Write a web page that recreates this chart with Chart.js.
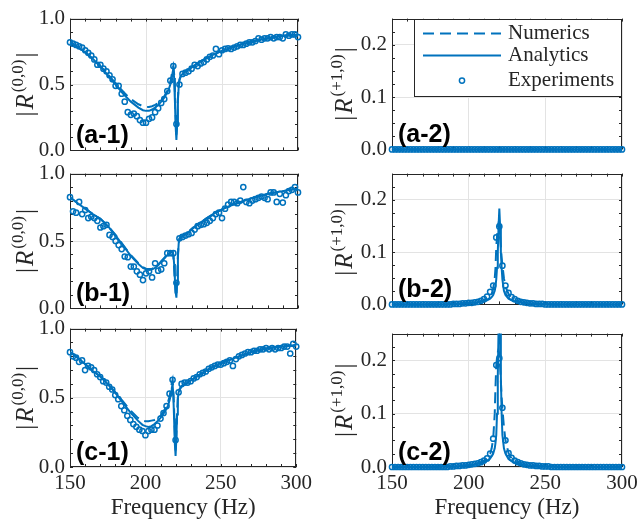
<!DOCTYPE html>
<html>
<head>
<meta charset="utf-8">
<title>Reflection coefficients vs frequency</title>
<script src="https://cdn.jsdelivr.net/npm/chart.js"></script>
<style>
    html, body { margin: 0; padding: 0; background: #fff; overflow: hidden; }
    body { width: 637px; height: 525px; position: relative; }
    .panel { position: absolute; }
</style>
</head>
<body>
<div class="panel" id="pa1"><canvas id="ca1"></canvas></div>
<div class="panel" id="pb1"><canvas id="cb1"></canvas></div>
<div class="panel" id="pc1"><canvas id="cc1"></canvas></div>
<div class="panel" id="pa2"><canvas id="ca2"></canvas></div>
<div class="panel" id="pb2"><canvas id="cb2"></canvas></div>
<div class="panel" id="pc2"><canvas id="cc2"></canvas></div>

<script>
// frequencies (Hz) of the model curves and of the measurements
const freqModel = [150,155,160,165,170,175,180,185,190,195,
    198,200,202,204,206,208,210,212,214,
    215,216,217,217.5,218,218.5,219,219.5,220,220.5,221,221.5,222,
    223,224,226,228,230,
    235,240,245,250,255,260,265,270,275,280,285,290,295,300];
const freqExp = [150,152,154,156,158,160,162,164,166,168,170,172,174,176,178,180,182,184,186,188,
    190,192,194,196,198,200,202,204,206,208,210,212,214,216,218,220,222,224,226,228,
    230,232,234,236,238,240,242,244,246,248,250,252,254,256,258,260,262,264,266,268,
    270,272,274,276,278,280,282,284,286,288,290,292,294,296,298,300];

// |R(0,0)| panels
const a1Numerics = [.82,.785,.745,.695,.64,.575,.51,.445,.39,.35,
    .335,.33,.33,.335,.345,.36,.38,.41,.45,
    .48,.52,.58,.62,.64,.58,.45,.26,.12,.22,.40,.50,.54,
    .57,.585,.60,.615,.63,
    .67,.70,.73,.755,.775,.795,.81,.825,.84,.85,.86,.87,.875,.88];
const a1Analytics = [.82,.785,.745,.695,.635,.57,.50,.43,.37,.325,
    .305,.30,.30,.31,.325,.345,.37,.40,.44,
    .465,.50,.55,.59,.62,.55,.38,.18,.08,.20,.38,.48,.53,
    .565,.58,.60,.615,.63,
    .67,.70,.73,.755,.775,.795,.81,.825,.84,.85,.86,.87,.875,.88];
const a1Exp = [.82,.81,.80,.79,.78,.76,.74,.72,.69,.65,
    .65,.62,.60,.57,.54,.49,.49,.43,.37,.29,
    .27,.28,.26,.23,.21,.21,.24,.25,.29,.32,
    .36,.39,.45,.53,.64,.20,.50,.58,.59,.60,
    .62,.65,.64,.66,.67,.69,.71,.72,.77,.73,
    .76,.77,.775,.77,.78,.79,.80,.80,.81,.82,
    .82,.83,.85,.84,.85,.85,.86,.85,.86,.86,
    .85,.88,.87,.88,.88,.86];

const b1Numerics = [.825,.78,.74,.70,.665,.61,.545,.47,.395,.335,
    .305,.295,.29,.295,.305,.325,.35,.375,.40,
    .41,.42,.425,.42,.39,.30,.19,.11,.09,.22,.40,.49,.52,
    .53,.54,.555,.57,.59,
    .63,.67,.705,.735,.76,.78,.80,.82,.835,.85,.86,.87,.88,.89];
const b1Analytics = [.825,.78,.74,.70,.665,.61,.54,.465,.39,.33,
    .30,.29,.285,.29,.30,.32,.345,.37,.395,
    .405,.415,.42,.42,.40,.33,.22,.12,.08,.20,.38,.48,.515,
    .525,.535,.55,.565,.585,
    .63,.67,.705,.735,.76,.78,.80,.82,.835,.85,.86,.87,.88,.89];
const b1Exp = [.825,.72,.71,.79,.70,.73,.67,.68,.67,.65,
    .60,.61,.62,.545,.53,.50,.47,.44,.385,.38,
    .31,.31,.275,.25,.21,.26,.275,.23,.335,.28,
    .29,.335,.41,.41,.41,.19,.52,.53,.54,.55,
    .56,.585,.61,.62,.625,.635,.65,.67,.70,.71,
    .67,.74,.77,.79,.79,.78,.80,.90,.79,.78,
    .80,.81,.82,.83,.82,.81,.86,.86,.79,.85,
    .785,.84,.87,.88,.90,.86];

const c1Numerics = [.83,.79,.745,.695,.655,.60,.54,.475,.41,.355,
    .335,.33,.33,.335,.34,.35,.37,.40,.44,
    .47,.51,.57,.61,.63,.56,.42,.24,.12,.22,.40,.50,.55,
    .57,.585,.60,.61,.625,
    .66,.695,.725,.75,.77,.79,.81,.83,.845,.855,.865,.87,.875,.88];
const c1Analytics = [.83,.79,.745,.695,.655,.60,.535,.465,.395,.335,
    .305,.295,.29,.295,.31,.33,.355,.385,.42,
    .445,.48,.53,.57,.60,.52,.35,.17,.08,.20,.38,.49,.54,
    .565,.58,.595,.61,.625,
    .66,.695,.725,.75,.77,.79,.81,.83,.845,.855,.865,.87,.875,.88];
const c1Exp = [.83,.80,.79,.76,.77,.70,.73,.72,.70,.67,
    .65,.62,.61,.58,.56,.52,.49,.44,.41,.37,
    .34,.31,.29,.27,.26,.23,.26,.27,.27,.30,
    .35,.39,.44,.53,.63,.195,.54,.60,.61,.61,
    .62,.64,.65,.67,.68,.69,.71,.72,.73,.74,
    .74,.75,.76,.77,.73,.78,.80,.81,.82,.83,
    .83,.84,.84,.85,.85,.86,.85,.86,.85,.86,
    .86,.87,.87,.82,.89,.87];

// |R(+1,0)| panels
const a2Numerics = [0,0,0,0,0,0,0,0,0,0,
    0,0,0,0,0,0,0,0,0,
    0,0,0,0,0,0,0,0,0,0,0,0,0,
    0,0,0,0,0,
    0,0,0,0,0,0,0,0,0,0,0,0,0,0];
const a2Analytics = [0,0,0,0,0,0,0,0,0,0,
    0,0,0,0,0,0,0,0,0,
    0,0,0,0,0,0,0,0,0,0,0,0,0,
    0,0,0,0,0,
    0,0,0,0,0,0,0,0,0,0,0,0,0,0];
const a2Exp = [0,0,0,0,0,0,0,0,0,0,0,0,0,0,0,0,0,0,0,0,
    0,0,0,0,0,0,0,0,0,0,0,0,0,0,0,0,0,0,0,0,
    0,0,0,0,0,0,0,0,0,0,0,0,0,0,0,0,0,0,0,0,
    0,0,0,0,0,0,0,0,0,0,0,0,0,0,0,0];

const b2Numerics = [0,0,0,0,0,0,0,0,.001,.002,
    .002,.003,.003,.004,.005,.006,.008,.010,.015,
    .020,.030,.050,.070,.110,.130,.145,.155,.150,.130,.110,.090,.075,
    .050,.034,.020,.012,.008,
    .004,.002,.001,.001,0,0,0,0,0,0,0,0,0,0];
const b2Analytics = [0,0,0,0,0,0,0,0,.001,.001,
    .002,.002,.003,.003,.004,.005,.006,.008,.011,
    .014,.018,.026,.034,.048,.070,.100,.150,.183,.150,.100,.070,.048,
    .026,.018,.011,.008,.006,
    .003,.002,.001,.001,0,0,0,0,0,0,0,0,0,0];
const b2Exp = [0,0,0,0,0,0,0,0,0,0,0,0,0,0,0,0,0,0,0,0,
    .001,.001,.001,.002,.002,.003,.003,.004,.005,.007,
    .010,.015,.024,.036,.128,.149,.074,.036,.022,.014,
    .010,.007,.005,.004,.003,.002,.002,.001,.001,.001,
    0,0,0,0,0,0,0,0,0,0,0,0,0,0,0,0,0,0,0,0,0,0,0,0,0,0];

const c2Numerics = [0,0,0,0,0,0,0,.001,.001,.002,
    .003,.004,.005,.006,.007,.009,.012,.016,.025,
    .035,.053,.100,.150,.190,.205,.215,.220,.210,.190,.160,.130,.110,
    .075,.050,.026,.016,.011,
    .005,.003,.002,.001,.001,0,0,0,0,0,0,0,0,0];
const c2Analytics = [0,0,0,0,0,0,0,.001,.001,.002,
    .003,.003,.004,.005,.006,.007,.009,.012,.016,
    .020,.025,.035,.045,.060,.100,.170,.260,.320,.260,.170,.100,.060,
    .035,.025,.015,.011,.008,
    .004,.003,.002,.001,.001,0,0,0,0,0,0,0,0,0];
const c2Exp = [0,0,0,0,0,0,0,0,0,0,0,0,0,0,0,0,0,0,0,
    .001,.001,.002,.002,.003,.003,.004,.005,.006,.007,.009,
    .012,.016,.025,.053,.191,.204,.111,.050,.026,.017,
    .012,.009,.007,.005,.004,.003,.003,.002,.002,.001,.001,.001,
    0,0,0,0,0,0,0,0,0,0,0,0,0,0,0,0,0,0,0,0,0,0,0,0];

const BLUE = '#0072bd';
const INK = '#262626';
const GRID = '#e3e3e3';

Chart.defaults.font.family = '"Liberation Serif", "Times New Roman", serif';
Chart.defaults.color = INK;

// box, inward ticks, panel tag, y label and legend, MATLAB style
const deco = {
    id: 'deco',
    beforeDatasetsDraw(chart, args, o) {
        const {ctx, chartArea: a, scales: {x, y}} = chart;
        ctx.save();
        ctx.strokeStyle = INK;
        ctx.lineWidth = 1;
        ctx.beginPath();
        for (let v = x.min; v <= x.max + 1e-6; v += 10) {
            const px = Math.round(x.getPixelForValue(v)) + 0.5;
            ctx.moveTo(px, a.top); ctx.lineTo(px, a.top + 3);
            ctx.moveTo(px, a.bottom); ctx.lineTo(px, a.bottom - 3);
        }
        for (let v = y.min; v <= y.max + 1e-6; v += o.yMinor) {
            const py = Math.round(y.getPixelForValue(v)) + 0.5;
            ctx.moveTo(a.left, py); ctx.lineTo(a.left + 3, py);
            ctx.moveTo(a.right, py); ctx.lineTo(a.right - 3, py);
        }
        ctx.stroke();
        ctx.strokeRect(Math.round(a.left) + 0.5, Math.round(a.top) + 0.5,
            Math.round(a.width) - 1, Math.round(a.height) - 1);
        ctx.restore();
    },
    afterDraw(chart, args, o) {
        const {ctx, chartArea: a} = chart;
        ctx.save();

        // panel tag
        ctx.font = 'bold 25px "Liberation Sans", Arial, sans-serif';
        ctx.fillStyle = '#000';
        ctx.textBaseline = 'alphabetic';
        ctx.textAlign = 'left';
        ctx.fillText(o.tag, a.left + 6, a.bottom - 7);

        // y label |R^(m,n)|
        ctx.save();
        ctx.translate(o.ylabX, (a.top + a.bottom) / 2);
        ctx.rotate(-Math.PI / 2);
        ctx.fillStyle = INK;
        const fMain = '25px "Liberation Serif"';
        const fIt = 'italic 25px "Liberation Serif"';
        const fSup = '17px "Liberation Serif"';
        ctx.font = fMain; const wb = ctx.measureText('|').width;
        ctx.font = fIt; const wr = ctx.measureText('R').width;
        ctx.font = fSup; const ws = ctx.measureText(o.sup).width;
        const gap = 2;
        let u = -(2 * wb + wr + ws + 3 * gap) / 2;
        ctx.font = fMain; ctx.fillText('|', u, 0); u += wb + gap;
        ctx.font = fIt; ctx.fillText('R', u, 0); u += wr + gap;
        ctx.font = fSup; ctx.fillText(o.sup, u, -10); u += ws + gap;
        ctx.font = fMain; ctx.fillText('|', u, 0);
        ctx.restore();

        if (o.legend) {
            const bw = 208, bh = 78;
            const bx = a.right - bw, by = a.top;
            ctx.fillStyle = '#fff';
            ctx.fillRect(bx, by, bw, bh);
            ctx.strokeStyle = INK;
            ctx.lineWidth = 1;
            ctx.strokeRect(Math.round(bx) + 0.5, Math.round(by) + 0.5, bw - 1, bh - 1);

            ctx.strokeStyle = BLUE;
            ctx.lineWidth = 2;
            ctx.setLineDash([11, 6]);
            ctx.beginPath(); ctx.moveTo(bx + 9, by + 15); ctx.lineTo(bx + 87, by + 15); ctx.stroke();
            ctx.setLineDash([]);
            ctx.beginPath(); ctx.moveTo(bx + 9, by + 37); ctx.lineTo(bx + 87, by + 37); ctx.stroke();
            ctx.lineWidth = 1.5;
            ctx.beginPath(); ctx.arc(bx + 48, by + 62, 2.6, 0, Math.PI * 2); ctx.stroke();

            ctx.fillStyle = INK;
            ctx.font = '21px "Liberation Serif"';
            ctx.textBaseline = 'middle';
            ctx.fillText('Numerics', bx + 94, by + 15);
            ctx.fillText('Analytics', bx + 94, by + 37);
            ctx.fillText('Experiments', bx + 94, by + 62);
        }
        ctx.restore();
    }
};

function buildPanel(divId, canvasId, p) {
    const div = document.getElementById(divId);
    const padTop = 16;
    div.style.left = p.divLeft + 'px';
    div.style.width = p.divWidth + 'px';
    div.style.top = (p.top - padTop) + 'px';
    div.style.height = (padTop + p.bottom - p.top + p.xAxisH) + 'px';

    const toXY = (xs, ys) => xs.map((f, i) => ({x: f, y: ys[i]}));
    const lineClip = {left: 0, top: 0, right: 0, bottom: 4};

    new Chart(document.getElementById(canvasId), {
        type: 'line',
        data: {
            datasets: [
                {
                    label: 'Numerics',
                    data: toXY(freqModel, p.num),
                    borderColor: BLUE,
                    borderWidth: 2,
                    borderDash: [11, 6],
                    pointRadius: 0,
                    tension: 0,
                    clip: lineClip
                },
                {
                    label: 'Analytics',
                    data: toXY(freqModel, p.ana),
                    borderColor: BLUE,
                    borderWidth: 2,
                    pointRadius: 0,
                    tension: 0,
                    clip: lineClip
                },
                {
                    label: 'Experiments',
                    data: toXY(freqExp, p.exp),
                    showLine: false,
                    pointRadius: 2.6,
                    pointBorderWidth: 1.5,
                    pointBorderColor: BLUE,
                    pointBackgroundColor: 'rgba(0,0,0,0)',
                    clip: 6
                }
            ]
        },
        options: {
            responsive: true,
            maintainAspectRatio: false,
            animation: false,
            events: [],
            layout: {padding: {top: padTop, left: 0, right: p.padRight, bottom: 0}},
            plugins: {
                legend: {display: false},
                tooltip: {enabled: false},
                deco: {tag: p.tag, sup: p.sup, ylabX: p.ylabX, yMinor: p.yMinor, legend: p.legend}
            },
            scales: {
                x: {
                    type: 'linear',
                    min: 150,
                    max: 300,
                    grid: {color: GRID, drawTicks: false},
                    border: {display: false},
                    ticks: {
                        display: p.bottomRow,
                        stepSize: 50,
                        padding: 4,
                        maxRotation: 0,
                        font: {size: 21},
                        color: INK
                    },
                    title: {
                        display: p.bottomRow,
                        text: 'Frequency (Hz)',
                        font: {size: 23},
                        color: INK,
                        padding: {top: 0, bottom: 3}
                    },
                    afterFit(s) { s.height = p.xAxisH; }
                },
                y: {
                    min: 0,
                    max: p.yMax,
                    grid: {color: GRID, drawTicks: false},
                    border: {display: false},
                    ticks: {
                        stepSize: p.yStep,
                        includeBounds: false,
                        padding: 5,
                        font: {size: 21},
                        color: INK,
                        callback: v => v.toFixed(1)
                    },
                    afterFit(s) { s.width = p.yAxisW; }
                }
            }
        },
        plugins: [deco]
    });
}

const leftCol = {divLeft: 0, divWidth: 316, yAxisW: 70, padRight: 18, ylabX: 33,
    yMax: 1, yStep: 0.5, yMinor: 0.1, sup: '(0,0)'};
const rightCol = {divLeft: 320, divWidth: 330, yAxisW: 72, padRight: 28, ylabX: 32,
    yMax: 0.25, yStep: 0.1, yMinor: 0.025, sup: '(+1,0)'};

buildPanel('pa1', 'ca1', {...leftCol, top: 17, bottom: 154, xAxisH: 14, bottomRow: false,
    tag: '(a-1)', num: a1Numerics, ana: a1Analytics, exp: a1Exp});
buildPanel('pb1', 'cb1', {...leftCol, top: 172, bottom: 312, xAxisH: 14, bottomRow: false,
    tag: '(b-1)', num: b1Numerics, ana: b1Analytics, exp: b1Exp});
buildPanel('pc1', 'cc1', {...leftCol, top: 327, bottom: 467, xAxisH: 58, bottomRow: true,
    tag: '(c-1)', num: c1Numerics, ana: c1Analytics, exp: c1Exp});
buildPanel('pa2', 'ca2', {...rightCol, top: 17, bottom: 153, xAxisH: 14, bottomRow: false,
    tag: '(a-2)', legend: true, num: a2Numerics, ana: a2Analytics, exp: a2Exp});
buildPanel('pb2', 'cb2', {...rightCol, top: 172, bottom: 308, xAxisH: 14, bottomRow: false,
    tag: '(b-2)', num: b2Numerics, ana: b2Analytics, exp: b2Exp});
buildPanel('pc2', 'cc2', {...rightCol, top: 332, bottom: 467, xAxisH: 58, bottomRow: true,
    tag: '(c-2)', num: c2Numerics, ana: c2Analytics, exp: c2Exp});
</script>
</body>
</html>
